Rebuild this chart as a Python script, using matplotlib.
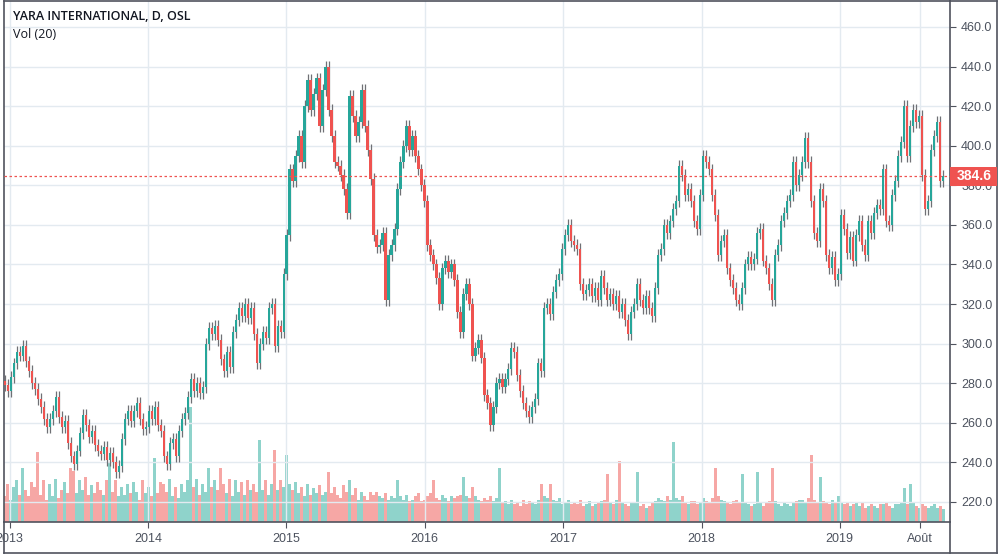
import numpy as np
import pandas as pd
import matplotlib
matplotlib.use("Agg")
import matplotlib.pyplot as plt
import matplotlib.dates as mdates
from matplotlib.lines import Line2D
from matplotlib.patches import Rectangle

# ---------------- data (~weekly sampling) ----------------
first_open = 281.0
closes = [
    279, 276, 283, 290, 296, 294, 299, 291, 286, 280,
    277, 272, 268, 262, 258, 262, 266, 273, 263, 258,
    261, 250, 243, 239, 246, 255, 264, 259, 253, 256,
    249, 246, 244, 248, 241, 245, 240, 235, 238, 252,
    262, 266, 261, 266, 270, 262, 257, 258, 266, 262,
    268, 259, 256, 243, 239, 250, 252, 243, 256, 262,
    265, 273, 282, 276, 280, 275, 278, 300, 308, 305,
    309, 302, 292, 286, 296, 288, 306, 312, 318, 314,
    320, 313, 318, 305, 290, 300, 306, 303, 318, 320,
    299, 309, 306, 335, 355, 388, 382, 395, 405, 392,
    420, 433, 418, 426, 434, 410, 428, 440, 418, 405,
    392, 390, 385, 378, 366, 425, 415, 405, 412, 428,
    410, 398, 383, 355, 349, 350, 356, 322, 345, 350,
    358, 378, 392, 400, 410, 398, 405, 395, 388, 380,
    372, 350, 345, 340, 333, 320, 338, 342, 336, 340,
    332, 316, 306, 325, 330, 320, 294, 298, 302, 293,
    274, 270, 259, 268, 280, 282, 278, 282, 287, 298,
    296, 284, 276, 270, 266, 263, 268, 272, 290, 286,
    318, 320, 315, 326, 332, 335, 348, 355, 360, 352,
    350, 348, 330, 325, 327, 330, 324, 328, 322, 334,
    328, 322, 325, 320, 324, 316, 320, 312, 305, 316,
    320, 330, 322, 318, 324, 318, 314, 328, 345, 348,
    360, 356, 362, 368, 372, 390, 385, 375, 378, 372,
    362, 358, 375, 395, 392, 388, 375, 365, 345, 352,
    355, 338, 332, 328, 322, 320, 328, 340, 344, 340,
    343, 356, 358, 342, 338, 330, 322, 345, 350, 362,
    366, 372, 375, 392, 380, 385, 392, 404, 392, 372,
    356, 352, 378, 372, 345, 338, 344, 332, 335, 365,
    358, 346, 354, 342, 355, 362, 350, 345, 362, 356,
    366, 370, 368, 388, 362, 360, 375, 382, 395, 402,
    420, 395, 410, 418, 412, 415, 385, 368, 372, 398,
    405, 412, 382, 384.6,
]
volume_m = [
    0.8, 1.2, 0.7, 1.1, 1.3, 0.85, 1.7, 1.0, 0.8, 1.25,
    1.1, 2.2, 0.85, 1.3, 0.7, 1.2, 0.8, 1.35, 0.75, 1.0,
    1.25, 0.9, 1.7, 1.6, 0.9, 1.3, 1.0, 1.4, 0.85, 1.15,
    0.9, 1.25, 1.0, 0.85, 1.3, 1.85, 0.95, 1.3, 0.8, 1.1,
    0.85, 1.2, 0.9, 1.25, 0.95, 0.7, 1.3, 0.9, 1.1, 0.8,
    2.0, 0.9, 1.25, 1.2, 0.95, 1.35, 0.8, 1.1, 0.75, 1.2,
    0.95, 1.3, 3.6, 1.1, 1.35, 0.85, 1.2, 0.95, 1.7, 1.1,
    1.3, 1.0, 1.7, 1.2, 0.9, 1.35, 0.8, 1.3, 0.95, 1.25,
    0.85, 1.3, 1.0, 1.2, 0.95, 2.55, 1.0, 1.3, 0.85, 1.2,
    2.25, 1.0, 1.3, 1.1, 2.1, 1.2, 1.0, 1.25, 0.9, 1.1,
    0.8, 1.2, 0.85, 1.05, 0.9, 1.15, 0.85, 0.95, 1.55, 0.9,
    1.1, 0.85, 0.75, 1.15, 0.95, 1.3, 0.85, 1.05, 0.7, 0.95,
    0.8, 0.7, 0.95, 0.85, 0.95, 0.8, 0.75, 0.9, 0.7, 0.8,
    0.75, 1.3, 0.8, 0.7, 0.85, 0.65, 0.7, 0.8, 0.9, 0.65,
    0.7, 0.8, 0.9, 1.3, 0.75, 0.7, 0.85, 0.75, 0.65, 0.8,
    0.75, 0.8, 0.85, 1.4, 0.8, 0.75, 1.1, 0.8, 0.7, 0.65,
    0.75, 0.7, 0.8, 0.65, 0.75, 1.7, 0.6, 0.65, 0.55, 0.7,
    0.55, 0.6, 0.5, 0.7, 0.55, 0.65, 0.6, 0.55, 0.7, 1.2,
    0.8, 0.75, 1.2, 0.7, 0.65, 0.75, 0.55, 0.6, 0.7, 0.55,
    0.6, 0.55, 0.7, 0.5, 0.55, 0.65, 0.5, 0.55, 0.6, 0.65,
    0.7, 1.5, 0.6, 0.55, 0.7, 1.9, 0.6, 0.55, 0.5, 0.6,
    0.6, 1.55, 0.5, 0.55, 0.45, 0.5, 0.6, 0.65, 0.75, 0.7,
    0.65, 0.8, 0.7, 2.5, 0.75, 0.7, 0.8, 0.6, 0.55, 0.65,
    0.65, 0.55, 0.6, 0.75, 0.65, 0.6, 0.75, 1.7, 0.8, 0.7,
    0.65, 0.6, 0.55, 0.65, 0.7, 0.6, 1.5, 0.6, 0.55, 0.5,
    0.55, 1.55, 0.6, 0.5, 0.6, 0.65, 1.7, 0.65, 0.55, 0.5,
    0.6, 0.55, 0.5, 0.6, 0.65, 0.7, 0.7, 0.6, 0.75, 2.1,
    0.7, 0.6, 1.4, 0.65, 0.6, 0.55, 0.7, 0.6, 0.8, 0.6,
    0.55, 0.6, 0.5, 0.55, 0.6, 0.5, 0.6, 0.45, 0.5, 0.55,
    0.5, 0.45, 0.55, 0.55, 0.6, 0.5, 0.45, 0.55, 0.55, 0.6,
    1.05, 0.55, 1.2, 0.6, 0.5, 0.45, 0.55, 0.5, 0.45, 0.5,
    0.55, 0.45, 0.5, 0.4,
]
start_date = "2012-12-19"
end_date = "2019-10-01"
last_price = 384.6
price_ticks = list(range(220, 461, 20))
time_tick_dates = ["2013-01-01", "2014-01-01", "2015-01-01", "2016-01-01",
                   "2017-01-01", "2018-01-01", "2019-01-01", "2019-08-01"]
time_tick_labels = ["2013", "2014", "2015", "2016", "2017", "2018", "2019", "Août"]
title_text = "YARA INTERNATIONAL, D, OSL"
vol_text = "Vol (20)"

# ---------------- styling ----------------
UP = "#26a69a"
DOWN = "#ef5350"
WICK = "#6f7075"
VOL_UP = "#8fd3cb"
VOL_DOWN = "#f6a7a5"
GRID = "#e3eaf0"
FRAME = "#50535e"
TXT = "#4c525e"
plt.rcParams["font.family"] = ["Liberation Sans", "DejaVu Sans"]

W, H = 1001, 555
fig = plt.figure(figsize=(W / 100, H / 100), dpi=100)
fig.patch.set_facecolor("white")
L, R, T, B = 4, 950, 1, 522
ax = fig.add_axes([L / W, (H - B) / H, (R - L) / W, (B - T) / H])
axv = ax.twinx()
ax.set_zorder(2)
axv.set_zorder(1)
ax.patch.set_visible(False)

dates = pd.date_range(start_date, end_date, periods=len(closes))
x = mdates.date2num(dates)
c = np.array(closes, dtype=float)
o = np.concatenate([[first_open], c[:-1]])
up = c >= o
step = x[1] - x[0]

# volume
axv.bar(x, volume_m, width=step * 0.85, color=np.where(up, VOL_UP, VOL_DOWN),
        linewidth=0, zorder=1)
axv.set_ylim(0, (B - T) / 32.0)
axv.set_yticks([])
for s in axv.spines.values():
    s.set_visible(False)

# candles
wick_pad = 3.0
hi = np.maximum(o, c) + wick_pad
lo = np.minimum(o, c) - wick_pad
ax.vlines(x, lo, hi, color=WICK, linewidth=0.9, zorder=3)
body_h = np.maximum(np.abs(c - o), 0.6)
ax.bar(x, body_h, bottom=np.minimum(o, c), width=step * 0.7,
       color=np.where(up, UP, DOWN), linewidth=0, zorder=4)

# axes limits
def px_to_price(py):
    return 460 - (py - 27) * (240 / 475)

ax.set_ylim(px_to_price(B), px_to_price(T))
x0_ref = mdates.date2num(pd.Timestamp("2013-01-01"))
x_left = x0_ref + (L - 9.6) / 138.4 * 365.25
x_right = x0_ref + (R - 9.6) / 138.4 * 365.25
ax.set_xlim(x_left, x_right)
axv.set_xlim(x_left, x_right)

# grid / ticks
ax.set_yticks(price_ticks)
tick_x = mdates.date2num(pd.to_datetime(time_tick_dates))
ax.set_xticks(tick_x)
ax.set_xticklabels(time_tick_labels)
ax.grid(True, color=GRID, linewidth=1, zorder=0)
ax.set_axisbelow(True)

ax.yaxis.tick_right()
ax.yaxis.set_major_formatter(matplotlib.ticker.FuncFormatter(lambda v, p: f"{v:.1f}"))
ax.tick_params(axis="y", direction="out", length=4, pad=4, labelsize=9,
               colors=FRAME, labelcolor=TXT)
ax.tick_params(axis="x", direction="out", length=4, pad=4, labelsize=9,
               colors=FRAME, labelcolor=TXT)
for s in ax.spines.values():
    s.set_color(FRAME)
    s.set_linewidth(1.2)

# last price line + label
ax.axhline(last_price, color=DOWN, linewidth=0.9, linestyle=(0, (2, 2)), zorder=5)
yfig = 1 - (T + (px_to_price(T) - last_price) / (240 / 475)) / H
box_h = 19 / H
fig.add_artist(Rectangle((R / W, yfig - box_h / 2), 47 / W, box_h,
                         transform=fig.transFigure, facecolor=DOWN,
                         edgecolor="none", zorder=10))
fig.text((R + 24) / W, yfig, f"{last_price:.1f}", color="white", fontsize=10,
         ha="center", va="center", zorder=11, fontweight="bold")

# outer frame
def fline(x0, y0, x1, y1):
    fig.add_artist(Line2D([x0 / W, x1 / W], [1 - y0 / H, 1 - y1 / H],
                          transform=fig.transFigure, color=FRAME, linewidth=1.2))

fline(R, T, 997, T)
fline(997, T, 997, 553)
fline(L, 553, 997, 553)
fline(L, B, L, 553)
fline(R, B, R, 553)

# titles
fig.text(13 / W, 1 - 16 / H, title_text, fontsize=9, fontweight="semibold",
         color="#131722", va="center", ha="left", family=["Open Sans", "DejaVu Sans"])
fig.text(13 / W, 1 - 35 / H, vol_text, fontsize=9, color="#131722",
         va="center", ha="left", family=["Open Sans", "DejaVu Sans"])

fig.savefig("out.png", dpi=100)
